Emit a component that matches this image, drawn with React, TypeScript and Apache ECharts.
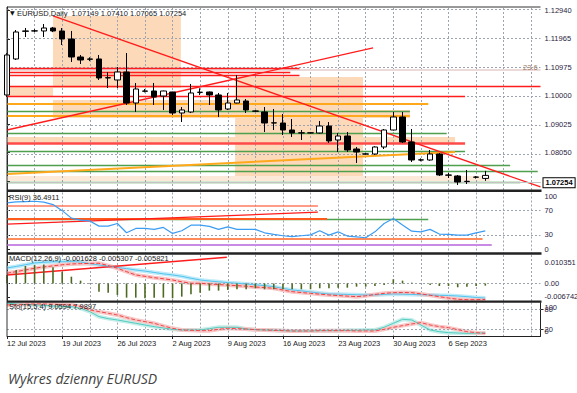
import React, { useEffect, useRef } from "react";
import * as echarts from "echarts";

// ---------- data ----------
const categories = [
  "12 Jul 2023", "13 Jul 2023", "14 Jul 2023", "16 Jul 2023", "17 Jul 2023", "18 Jul 2023",
  "19 Jul 2023", "20 Jul 2023", "21 Jul 2023", "23 Jul 2023", "24 Jul 2023", "25 Jul 2023",
  "26 Jul 2023", "27 Jul 2023", "28 Jul 2023", "30 Jul 2023", "31 Jul 2023", "1 Aug 2023",
  "2 Aug 2023", "3 Aug 2023", "4 Aug 2023", "6 Aug 2023", "7 Aug 2023", "8 Aug 2023",
  "9 Aug 2023", "10 Aug 2023", "11 Aug 2023", "13 Aug 2023", "14 Aug 2023", "15 Aug 2023",
  "16 Aug 2023", "17 Aug 2023", "18 Aug 2023", "20 Aug 2023", "21 Aug 2023", "22 Aug 2023",
  "23 Aug 2023", "24 Aug 2023", "25 Aug 2023", "27 Aug 2023", "28 Aug 2023", "29 Aug 2023",
  "30 Aug 2023", "31 Aug 2023", "1 Sep 2023", "3 Sep 2023", "4 Sep 2023", "5 Sep 2023",
  "6 Sep 2023", "7 Sep 2023", "8 Sep 2023", "10 Sep 2023", "11 Sep 2023", "12 Sep 2023",
  "13 Sep 2023", "14 Sep 2023", "15 Sep 2023", "17 Sep 2023", "18 Sep 2023",
];
const lastLabelIndex = 48;

// [open, close, low, high]
const candles = [
  [1.1003, 1.11411, 1.09961, 1.1148],
  [1.11273, 1.12205, 1.11238, 1.12274],
  [1.1224, 1.1223, 1.12032, 1.12343],
  [1.1224, 1.12245, 1.12205, 1.123],
  [1.1224, 1.12343, 1.12032, 1.12481],
  [1.12343, 1.1224, 1.122, 1.1238],
  [1.1224, 1.11963, 1.11756, 1.12343],
  [1.11963, 1.11342, 1.11169, 1.1224],
  [1.11342, 1.11238, 1.111, 1.11411],
  [1.11273, 1.11265, 1.112, 1.1133],
  [1.11273, 1.10617, 1.10548, 1.11411],
  [1.10617, 1.1063, 1.10271, 1.10824],
  [1.10548, 1.10824, 1.10271, 1.10997],
  [1.10824, 1.09753, 1.09684, 1.1148],
  [1.09753, 1.10237, 1.09443, 1.10444],
  [1.10168, 1.1016, 1.1012, 1.10237],
  [1.10168, 1.09961, 1.09684, 1.10444],
  [1.09995, 1.10168, 1.09512, 1.1018],
  [1.10133, 1.09408, 1.09339, 1.1014],
  [1.09408, 1.09512, 1.09097, 1.09615],
  [1.09443, 1.10099, 1.09408, 1.1041],
  [1.1012, 1.10125, 1.1003, 1.1026],
  [1.10133, 1.1003, 1.09684, 1.1015],
  [1.1003, 1.09512, 1.0927, 1.10099],
  [1.09546, 1.09753, 1.09512, 1.10099],
  [1.09753, 1.09857, 1.0974, 1.1072],
  [1.09822, 1.09512, 1.09408, 1.0989],
  [1.09477, 1.0947, 1.0945, 1.095],
  [1.09443, 1.09063, 1.08752, 1.09615],
  [1.09063, 1.0907, 1.08821, 1.09546],
  [1.09063, 1.08821, 1.08649, 1.09373],
  [1.08821, 1.08718, 1.0858, 1.09201],
  [1.08718, 1.08725, 1.08476, 1.08821],
  [1.0872, 1.08725, 1.087, 1.0874],
  [1.08718, 1.08959, 1.087, 1.09132],
  [1.08959, 1.08442, 1.08372, 1.09097],
  [1.08476, 1.08614, 1.08061, 1.08718],
  [1.08614, 1.08131, 1.08061, 1.08752],
  [1.08165, 1.08061, 1.07682, 1.08234],
  [1.07992, 1.07995, 1.0797, 1.0802],
  [1.07992, 1.08234, 1.0796, 1.0826],
  [1.08234, 1.08821, 1.08165, 1.08856],
  [1.08821, 1.0927, 1.088, 1.09443],
  [1.0927, 1.08407, 1.08372, 1.09443],
  [1.08407, 1.07785, 1.07716, 1.08856],
  [1.07785, 1.0779, 1.0774, 1.0784],
  [1.07785, 1.07992, 1.0776, 1.08131],
  [1.07992, 1.07267, 1.07233, 1.08027],
  [1.07267, 1.0726, 1.07164, 1.07336],
  [1.07233, 1.07025, 1.06922, 1.07267],
  [1.0704, 1.0705, 1.06956, 1.0744],
  [1.0719, 1.07195, 1.07145, 1.0723],
  [1.07149, 1.07254, 1.07065, 1.0741],
];

const lastPrice = 1.07254;
const priceTicks = [1.1294, 1.11965, 1.10975, 1.1, 1.09025, 1.0805, 1.0706];
const fibLevel = 1.1091;

// drawn objects on the price chart: [startIndex, startPrice, endIndex, endPrice]
const redLines = [
  [0, 1.10952, 31.8, 1.10952],
  [0, 1.10824, 30.8, 1.10824],
  [0, 1.1071, 31.8, 1.1071],
  [0, 1.1034, 58, 1.1034],
  [0, 1.09995, 49.8, 1.09995],
  [5.0, 1.12758, 58, 1.06853],
  [0, 1.08821, 39.8, 1.11653],
];
const redThickLines = [[0, 1.08372, 49.8, 1.08372]];
const orangeLines = [
  [0, 1.09719, 45.8, 1.09719],
  [0, 1.09304, 43.8, 1.09304],
  [0, 1.07302, 48.7, 1.08061],
];
const greenLines = [
  [0, 1.09477, 43.8, 1.09477],
  [0, 1.08718, 47.8, 1.08718],
  [0, 1.08079, 49.8, 1.08079],
  [0, 1.07613, 54.7, 1.07613],
  [0, 1.07405, 57.7, 1.07405],
  [0, 1.07008, 55.8, 1.07008],
];
// zones: [startIndex, topPrice, endIndex, bottomPrice]
const zones = [
  [5.0, 1.12758, 18.9, 1.10271],
  [0, 1.1034, 5.0, 1.09961],
  [5.0, 1.09857, 24.8, 1.09236],
  [24.8, 1.10651, 38.7, 1.07094],
  [24.8, 1.09512, 43.8, 1.09236],
  [0, 1.0858, 48.7, 1.08372],
];
const lightZones = [[0, 1.07233, 52.5, 1.0706]];

// RSI(9)
const rsi = [
  82.7, 84.4, 85.0, 85.5, 84.0, 80.0, 70.0, 57.6, 54.3, 53.0,
  44.4, 44.4, 48.8, 33.4, 40.6, 40.6, 39.0, 42.3, 32.4, 36.7,
  46.0, 46.0, 44.0, 39.0, 43.3, 39.0, 39.0, 39.0, 33.4, 30.8,
  28.5, 27.0, 28.5, 30.0, 36.7, 29.6, 35.0, 28.0, 26.8, 25.2,
  35.0, 48.8, 57.1, 46.1, 36.0, 35.0, 39.0, 31.3, 30.8, 29.6,
  29.6, 33.4, 36.4911,
];
const rsiLevels = [70, 30];
const rsiRedLines = [[0, 47.7, 33.8, 67.4]];
const rsiSalmonLines = [[0, 77.8, 33.8, 77.8]];
const rsiOrangeLines = [[0, 57.1, 34.8, 57.1]];
const rsiGreenLines = [[0, 55.4, 45.8, 55.4]];
const rsiCoralLines = [[0, 23.5, 51.7, 23.5]];
const rsiPurpleLines = [[0, 13.2, 52.7, 13.2]];

// MACD(12,26,9)
const macdHist = [
  0.00309, 0.00491, 0.00636, 0.00673, 0.00691, 0.00589, 0.00429, 0.00247, 0.00102, -0.0002,
  -0.00298, -0.00335, -0.00418, -0.00516, -0.00516, -0.00538, -0.00516, -0.00516, -0.00538, -0.0048,
  -0.00393, -0.00335, -0.00262, -0.00262, -0.00236, -0.00211, -0.00211, -0.00175, -0.00211, -0.00211,
  -0.00211, -0.00211, -0.00211, -0.00211, -0.00175, -0.00175, -0.00153, -0.00153, -0.00116, -0.00116,
  -0.00091, -0.00055, 0.00153, 0.00102, 0.00029, 0.0001, -0.00055, -0.00091, -0.00091, -0.00138,
  -0.00116, -0.00091, -0.0008,
];
const macdMain = [
  0.00564, 0.0062, 0.0068, 0.00745, 0.0077, 0.0079, 0.0079, 0.00793, 0.0078, 0.0072,
  0.00673, 0.0063, 0.0058, 0.0054, 0.00491, 0.0045, 0.004, 0.0035, 0.00309, 0.0026,
  0.0019, 0.00127, 0.0009, 0.0006, 0.0003, 0.00007, -0.0002, -0.0005, -0.0008, -0.00116,
  -0.0018, -0.00236, -0.0027, -0.0031, -0.0035, -0.00382, -0.0039, -0.004, -0.0041, -0.0042,
  -0.00418, -0.004, -0.00382, -0.0039, -0.004, -0.0041, -0.00418, -0.0043, -0.0044, -0.00455,
  -0.0048, -0.0051, -0.005307,
];
const macdSignal = [
  0.00371, 0.0043, 0.0049, 0.00553, 0.006, 0.0064, 0.0068, 0.00709, 0.0072, 0.0073,
  0.00735, 0.0065, 0.00553, 0.0043, 0.00309, 0.0026, 0.0021, 0.0017, 0.00127, 0.0006,
  0.00007, 0.00007, -0.0002, -0.0004, -0.0006, -0.0008, -0.001, -0.0013, -0.0015, -0.00175,
  -0.0024, -0.00298, -0.0033, -0.0036, -0.0039, -0.00418, -0.0044, -0.0046, -0.0048, -0.0045,
  -0.004, -0.0036, -0.00335, -0.0033, -0.00335, -0.0038, -0.0043, -0.0048, -0.0053, -0.00575,
  -0.0059, -0.0059, -0.005821,
];
const macdTrend = [[0, 0.00309, 23.9, 0.00953]];
const macdMin = -0.006742;
const macdMax = 0.010351;

// Stochastic(15,5,4)
const stochMain = [
  98, 96, 94, 93, 92, 90, 89, 88, 83, 73,
  58, 52, 48, 43, 38, 33, 28, 24, 20, 18,
  18, 18, 22, 26, 26, 26, 21, 19, 18, 17,
  16, 15, 15, 15, 16, 16, 16, 17, 17, 18,
  18, 26, 38, 50, 48, 33, 18, 13, 10, 9,
  8, 8.5, 9.0594,
];
const stochSignal = [
  93, 94, 95, 96, 96, 95, 94, 93, 88, 78,
  73, 68, 63, 55, 48, 43, 38, 30, 23, 18,
  17, 16, 16, 20, 23, 22, 21, 19, 18, 17,
  16, 15, 15, 15, 16, 16, 16, 16, 15, 15,
  15, 20, 26, 31, 36, 40, 33, 28, 25, 19,
  13, 10, 7.9897,
];
const stochLevels = [80, 20];

// axis label placements for indicator windows (value where drawn, text)
const rsiLabelPos = [94, 70, 30, 6];
const rsiLabelText = ["100", "70", "30", "0"];
const macdLabelPos = [0.0078, 0, -0.0049];
const macdLabelText = ["0.010351", "0.00", "-0.006742"];
const stochLabelPos = [80, 20];
const stochLabelText = ["80", "20"];
const stochEdgeText = ["100", "0"];

// ---------- chart ----------
const FONT = "'Liberation Sans', Arial, sans-serif";
const GRID_COLOR = "#9ba4b0";
const LEFT = 7;
const WIDTH = 533.5;

function segs(list: number[][], color: string, width: number, type: any = "solid") {
  return list.map((s) => [
    { coord: [s[0], s[1]], lineStyle: { color, width, type } },
    { coord: [s[2], s[3]] },
  ]);
}

function lineObjects(xi: number, yi: number, data: any[], z: number) {
  return {
    type: "line",
    xAxisIndex: xi,
    yAxisIndex: yi,
    data: [],
    z,
    silent: true,
    markLine: {
      silent: true,
      symbol: ["none", "none"],
      label: { show: false },
      emphasis: { disabled: true },
      data,
    },
  };
}

function buildOption(): any {
  const every3 = (i: number) => i > 0 && i % 3 === 0;
  const every6 = (i: number) => i % 6 === 0 && i <= lastLabelIndex;
  const catX = (gi: number, labels: boolean) => ({
    type: "category",
    gridIndex: gi,
    data: categories,
    boundaryGap: false,
    axisLine: { show: labels, lineStyle: { color: "#222" } },
    axisTick: { show: labels, interval: every6, length: 3, lineStyle: { color: "#222" } },
    axisLabel: {
      show: labels,
      interval: every6,
      align: "left",
      fontSize: 7.5,
      color: "#222",
      margin: 3,
      fontFamily: FONT,
    },
    splitLine: {
      show: gi !== 0,
      interval: every3,
      lineStyle: { color: GRID_COLOR, type: [2, 2], width: 1 },
    },
  });
  const valX = (gi: number) => ({ type: "value", gridIndex: gi, min: 0, max: 58, show: false });
  const label = (pos: number[], text: string[]) => ({
    customValues: pos,
    hideOverlap: false,
    formatter: (v: number) => {
      const i = pos.indexOf(v);
      return i >= 0 ? text[i] : "";
    },
    fontSize: 7.5,
    color: "#2a2440",
    margin: 4,
    fontFamily: FONT,
  });
  const rightY = (gi: number, min: number, max: number, axisLabel: any, ticks: number[]) => ({
    type: "value",
    gridIndex: gi,
    position: "right",
    min,
    max,
    axisLine: { show: true, lineStyle: { color: "#222" } },
    axisTick: { show: true, customValues: ticks, length: 3, lineStyle: { color: "#222" } },
    axisLabel,
    splitLine: { show: false },
  });

  const grids = [
    { left: LEFT, top: 7, width: WIDTH, height: 183 },
    { left: LEFT, top: 192.5, width: WIDTH, height: 60.5 },
    { left: LEFT, top: 255, width: WIDTH, height: 47 },
    { left: LEFT, top: 302.6, width: WIDTH, height: 33.4 },
  ].map((g) => ({ ...g, containLabel: false, outerBoundsMode: "none", show: false }));

  const vgrid: number[] = [];
  for (let i = 3; i < categories.length; i += 3) vgrid.push(i);

  const dotted = { color: GRID_COLOR, type: [2, 2], width: 1 };

  const series: any[] = [
    // zones
    {
      type: "line",
      xAxisIndex: 1,
      yAxisIndex: 0,
      data: [],
      z: 1,
      silent: true,
      markArea: {
        silent: true,
        itemStyle: { color: "#fcd9b9" },
        data: zones.map((z) => [{ coord: [z[0], z[1]] }, { coord: [z[2], z[3]] }]),
      },
    },
    {
      type: "line",
      xAxisIndex: 1,
      yAxisIndex: 0,
      data: [],
      z: 1,
      silent: true,
      markArea: {
        silent: true,
        itemStyle: { color: "#fde9d8" },
        data: lightZones.map((z) => [{ coord: [z[0], z[1]] }, { coord: [z[2], z[3]] }]),
      },
    },
    // main grid
    lineObjects(1, 0, [
      ...priceTicks.map((v) => ({ yAxis: v, lineStyle: dotted })),
      ...vgrid.map((x) => ({ xAxis: x, lineStyle: dotted })),
    ], 2),
    lineObjects(1, 0, segs([[0, fibLevel, 58, fibLevel]], "#ecd9d9", 2), 3),
    lineObjects(1, 0, [
      ...segs(greenLines, "#4e9f4e", 1.3),
      ...segs(orangeLines, "#ffa81c", 2),
      ...segs(redThickLines, "#ff4a4a", 2.5),
      ...segs(redLines, "#ff1c1c", 1.3),
    ], 4),
    {
      type: "candlestick",
      xAxisIndex: 0,
      yAxisIndex: 0,
      data: candles,
      barWidth: 6,
      z: 6,
      silent: true,
      itemStyle: {
        color: "#ffffff",
        color0: "#000000",
        borderColor: "#000000",
        borderColor0: "#000000",
        borderWidth: 1,
      },
      markLine: {
        silent: true,
        symbol: ["none", "none"],
        data: [
          {
            yAxis: lastPrice,
            lineStyle: { color: "#c4c4c4", width: 1, type: "solid" },
            label: {
              show: true,
              position: "end",
              formatter: lastPrice.toFixed(5),
              color: "#000",
              fontSize: 7.5,
              fontWeight: "bold",
              fontFamily: FONT,
              backgroundColor: "#fff",
              borderColor: "#000",
              borderWidth: 1,
              padding: [1, 2, 0, 2],
              distance: 3,
            },
          },
        ],
      },
    },
    // RSI panel
    lineObjects(3, 1, [
      ...rsiLevels.map((v) => ({ yAxis: v, lineStyle: dotted })),
      ...segs(rsiPurpleLines, "#c98ae3", 2),
      ...segs(rsiCoralLines, "#ff8a5a", 2),
      ...segs(rsiGreenLines, "#4e9f4e", 1.3),
      ...segs(rsiOrangeLines, "#ff5a1e", 2),
      ...segs(rsiSalmonLines, "#ff7a5e", 1.5),
      ...segs(rsiRedLines, "#ff1c1c", 1.3),
    ], 3),
    {
      type: "line",
      xAxisIndex: 2,
      yAxisIndex: 1,
      data: rsi,
      showSymbol: false,
      silent: true,
      z: 5,
      lineStyle: { color: "#3b9cf3", width: 1.2 },
    },
    // MACD panel
    lineObjects(5, 2, [
      { yAxis: 0, lineStyle: dotted },
      ...segs(macdTrend, "#ff1c1c", 1.5),
    ], 3),
    {
      type: "line",
      xAxisIndex: 4,
      yAxisIndex: 2,
      data: macdMain,
      showSymbol: false,
      silent: true,
      z: 4,
      lineStyle: { color: "#bfeaf8", width: 4 },
    },
    {
      type: "line",
      xAxisIndex: 4,
      yAxisIndex: 2,
      data: macdMain,
      showSymbol: false,
      silent: true,
      z: 5,
      lineStyle: { color: "#52c4ee", width: 1 },
    },
    {
      type: "line",
      xAxisIndex: 4,
      yAxisIndex: 2,
      data: macdSignal,
      showSymbol: false,
      silent: true,
      z: 4,
      lineStyle: { color: "#f8c6c6", width: 4 },
    },
    {
      type: "line",
      xAxisIndex: 4,
      yAxisIndex: 2,
      data: macdSignal,
      showSymbol: false,
      silent: true,
      z: 5,
      lineStyle: { color: "#ef3e3e", width: 1, type: [4, 2] },
    },
    {
      type: "bar",
      xAxisIndex: 4,
      yAxisIndex: 2,
      data: macdHist,
      barWidth: 1.6,
      silent: true,
      z: 6,
      itemStyle: { color: "#4d6a22" },
    },
    // Stochastic panel
    {
      type: "line",
      xAxisIndex: 6,
      yAxisIndex: 3,
      data: stochMain,
      showSymbol: false,
      silent: true,
      z: 4,
      lineStyle: { color: "#c3eee9", width: 4 },
      markLine: {
        silent: true,
        symbol: ["none", "none"],
        label: { show: false },
        data: stochLevels.map((v) => ({ yAxis: v, lineStyle: dotted })),
      },
    },
    {
      type: "line",
      xAxisIndex: 6,
      yAxisIndex: 3,
      data: stochMain,
      showSymbol: false,
      silent: true,
      z: 5,
      lineStyle: { color: "#52cbbf", width: 1 },
    },
    {
      type: "line",
      xAxisIndex: 6,
      yAxisIndex: 3,
      data: stochSignal,
      showSymbol: false,
      silent: true,
      z: 4,
      lineStyle: { color: "#f8c8c8", width: 4 },
    },
    {
      type: "line",
      xAxisIndex: 6,
      yAxisIndex: 3,
      data: stochSignal,
      showSymbol: false,
      silent: true,
      z: 5,
      lineStyle: { color: "#ee4c4c", width: 1, type: [4, 2] },
    },
  ];

  const textStyle = (text: string) => ({
    text,
    fontSize: 7.5,
    fontFamily: FONT,
    fill: "#1a1a1a",
  });
  const axisText = (text: string) => ({
    text,
    fontSize: 7.5,
    fontFamily: FONT,
    fill: "#2a2440",
  });

  const graphic = [
    { type: "line", z: 100, shape: { x1: LEFT, y1: 7, x2: LEFT + WIDTH, y2: 7 }, style: { stroke: "#333", lineWidth: 1 } },
    { type: "line", z: 100, shape: { x1: LEFT, y1: 7, x2: LEFT, y2: 336 }, style: { stroke: "#333", lineWidth: 1 } },
    { type: "rect", z: 100, shape: { x: LEFT, y: 189.5, width: WIDTH + 1, height: 2.5 }, style: { fill: "#222" } },
    { type: "rect", z: 100, shape: { x: LEFT, y: 252.3, width: WIDTH + 1, height: 2.5 }, style: { fill: "#222" } },
    { type: "rect", z: 100, shape: { x: LEFT, y: 300.6, width: WIDTH + 1, height: 2.2 }, style: { fill: "#222" } },
    { type: "text", z: 100, left: 10, top: 9.5, style: { text: "▼", fontSize: 6, fill: "#111", fontFamily: "DejaVu Sans" } },
    { type: "text", z: 100, left: 17, top: 9, style: textStyle("EURUSD,Daily  1.07149 1.07410 1.07065 1.07254") },
    { type: "text", z: 100, left: 9, top: 193.5, style: textStyle("RSI(9) 36.4911") },
    { type: "text", z: 100, left: 9, top: 254.5, style: textStyle("MACD(12,26,9) -0.001628 -0.005307 -0.005821") },
    { type: "text", z: 100, left: 9, top: 302.5, style: textStyle("Sto(15,5,4) 9.0594 7.9897") },
    { type: "text", z: 100, left: 523, top: 63.5, style: { text: "23.6", fontSize: 7.5, fontFamily: FONT, fill: "#a07a62" } },
    // stochastic edge labels drawn over the 80 / 20 labels as in the terminal
    { type: "text", z: 100, left: 544.5, top: 303, style: axisText(stochEdgeText[0]) },
    { type: "text", z: 100, left: 544.5, top: 327, style: axisText(stochEdgeText[1]) },
    {
      type: "text",
      z: 100,
      left: 8,
      top: 371,
      style: {
        text: "Wykres dzienny EURUSD",
        fontSize: 14,
        fontStyle: "italic",
        fontFamily: "'Open Sans', 'Noto Sans', sans-serif",
        fill: "#444",
      },
    },
  ];

  return {
    animation: false,
    backgroundColor: "#ffffff",
    grid: grids,
    xAxis: [catX(0, false), valX(0), catX(1, false), valX(1), catX(2, false), valX(2), catX(3, true)],
    yAxis: [
      rightY(
        0,
        1.06749,
        1.13068,
        {
          customValues: priceTicks,
          hideOverlap: false,
          formatter: (v: number) => v.toFixed(5),
          fontSize: 7.5,
          color: "#2a2440",
          margin: 4,
          fontFamily: FONT,
        },
        priceTicks
      ),
      rightY(1, 0, 100, label(rsiLabelPos, rsiLabelText), rsiLabelPos),
      rightY(2, macdMin, macdMax, label(macdLabelPos, macdLabelText), macdLabelPos),
      rightY(3, 0, 100, label(stochLabelPos, stochLabelText), stochLabelPos),
    ],
    series,
    graphic,
  };
}

export default function App() {
  const ref = useRef<HTMLDivElement>(null);
  useEffect(() => {
    if (!ref.current) return;
    const chart = echarts.init(ref.current, null, { renderer: "svg" });
    chart.setOption(buildOption());
    return () => chart.dispose();
  }, []);
  return (
    <div
      ref={ref}
      style={{ position: "fixed", left: 0, top: 0, width: 577, height: 393, background: "#fff" }}
    />
  );
}
